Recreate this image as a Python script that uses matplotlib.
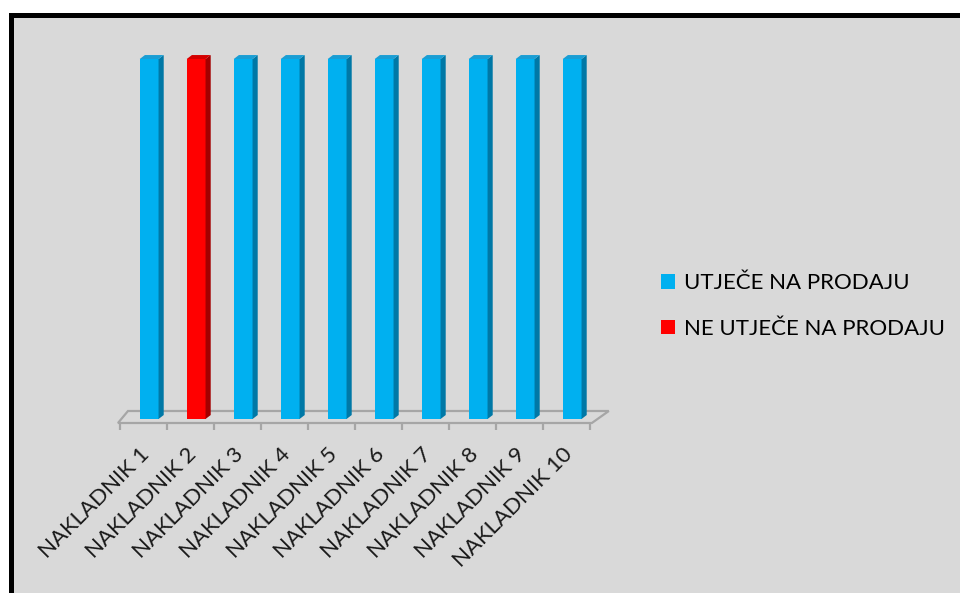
import matplotlib.pyplot as plt
from matplotlib.patches import Polygon, Rectangle
import numpy as np

plt.rcParams["font.family"] = ["Lato", "DejaVu Sans"]

categories = ["NAKLADNIK 1", "NAKLADNIK 2", "NAKLADNIK 3", "NAKLADNIK 4", "NAKLADNIK 5",
              "NAKLADNIK 6", "NAKLADNIK 7", "NAKLADNIK 8", "NAKLADNIK 9", "NAKLADNIK 10"]
utjece = [1, 0, 1, 1, 1, 1, 1, 1, 1, 1]
ne_utjece = [0, 1, 0, 0, 0, 0, 0, 0, 0, 0]
series_names = ["UTJEČE NA PRODAJU", "NE UTJEČE NA PRODAJU"]

# front / side / top shades
blue = ("#00B0F0", "#0078A6", "#1A9ED4")
red = ("#FF0000", "#A30000", "#D40000")
bg = "#D9D9D9"

W, H = 960, 593
fig = plt.figure(figsize=(W / 100, H / 100), dpi=100)
fig.patch.set_facecolor("white")

# gray panel with thick black frame (cut off at right/bottom)
fig.patches.append(Rectangle((10.5 / W, -0.1), 1.2, (H - 14.5) / H + 0.1, transform=fig.transFigure,
                             facecolor=bg, edgecolor="black", linewidth=3.6, zorder=-5))

# plot area in pixels: x 120..590, y 419 (value 0) .. 59 (value 1)
ax = fig.add_axes([120 / W, (H - 419) / H, 470 / W, 360 / H])
ax.set_xlim(-0.5, 9.5)
ax.set_ylim(0, 1)
ax.patch.set_visible(False)
for s in ax.spines.values():
    s.set_visible(False)
ax.set_yticks([])

x = np.arange(len(categories))
off = 0.12
bw = 0.40
ddx = 0.11   # depth offset in x (data)
ddy = 0.011  # depth offset in y (data)

# floor outline
fy0 = -4 / 360
fy1 = 8 / 360
floor = [(-0.543, fy0), (9.54, fy0), (9.9, fy1), (-0.33, fy1)]
ax.add_patch(Polygon(floor, closed=True, fill=False, edgecolor="#A6A6A6", lw=1.6, clip_on=False, zorder=1))
ax.vlines(np.arange(-0.5, 10, 1.0), fy0, -11 / 360, color="#A6A6A6", lw=1.6, clip_on=False, zorder=1)

handles = []
for vals, cols, name in [(utjece, blue, series_names[0]), (ne_utjece, red, series_names[1])]:
    b = ax.bar(x + off, vals, width=bw, color=cols[0], label=name, zorder=3, clip_on=False)
    handles.append(b)
    for xi, v in zip(x, vals):
        if v == 0:
            continue
        r = xi + off + bw / 2
        l = xi + off - bw / 2
        side = [(r, 0), (r + ddx, ddy), (r + ddx, v + ddy), (r, v)]
        top = [(l, v), (r, v), (r + ddx, v + ddy), (l + ddx, v + ddy)]
        ax.add_patch(Polygon(side, closed=True, facecolor=cols[1], edgecolor="none", zorder=3, clip_on=False))
        ax.add_patch(Polygon(top, closed=True, facecolor=cols[2], edgecolor="none", zorder=3, clip_on=False))

ax.set_xticks(x + 0.06)
ax.set_xticklabels(categories, fontsize=16, color="#1a1a1a")
ax.tick_params(axis="x", length=0, pad=23)
plt.setp(ax.get_xticklabels(), rotation=45, ha="right", va="center", rotation_mode="anchor")

fig.legend(handles=handles, labels=series_names, loc="center left",
           bbox_to_anchor=(641 / W, 1 - 306 / H), frameon=False, fontsize=16,
           handlelength=0.65, handleheight=0.65, handletextpad=0.4, labelspacing=1.15)

fig.savefig("out.png", dpi=100)
